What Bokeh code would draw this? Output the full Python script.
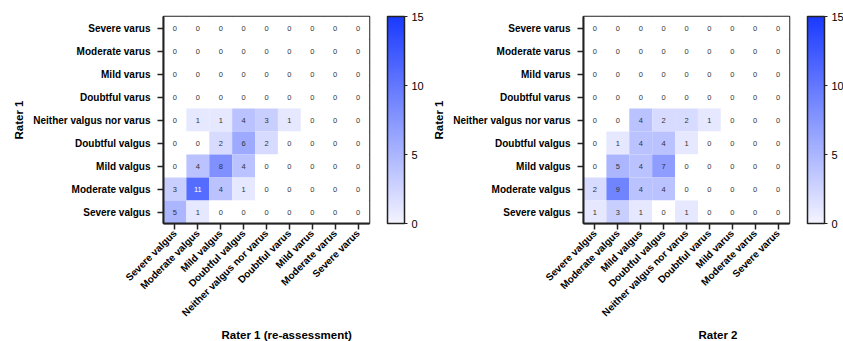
import math
from bokeh.plotting import figure
from bokeh.models import (ColumnDataSource, LinearColorMapper, ColorBar, FixedTicker,
                          FactorRange, Title)
from bokeh.layouts import row
from bokeh.embed import file_html
from bokeh.resources import INLINE
from bokeh.core.properties import value

# Categories
x_categories = ["Severe valgus", "Moderate valgus", "Mild valgus", "Doubtful valgus",
                "Neither valgus nor varus", "Doubtful varus", "Mild varus",
                "Moderate varus", "Severe varus"]
# rows listed top -> bottom
y_rows_top_down = ["Severe varus", "Moderate varus", "Mild varus", "Doubtful varus",
                   "Neither valgus nor varus", "Doubtful valgus", "Mild valgus",
                   "Moderate valgus", "Severe valgus"]

# Rater 1 vs Rater 1 (re-assessment), rows top -> bottom
left_values = [
    [0, 0, 0, 0, 0, 0, 0, 0, 0],
    [0, 0, 0, 0, 0, 0, 0, 0, 0],
    [0, 0, 0, 0, 0, 0, 0, 0, 0],
    [0, 0, 0, 0, 0, 0, 0, 0, 0],
    [0, 1, 1, 4, 3, 1, 0, 0, 0],
    [0, 0, 2, 6, 2, 0, 0, 0, 0],
    [0, 4, 8, 4, 0, 0, 0, 0, 0],
    [3, 11, 4, 1, 0, 0, 0, 0, 0],
    [5, 1, 0, 0, 0, 0, 0, 0, 0],
]
# Rater 1 vs Rater 2, rows top -> bottom
right_values = [
    [0, 0, 0, 0, 0, 0, 0, 0, 0],
    [0, 0, 0, 0, 0, 0, 0, 0, 0],
    [0, 0, 0, 0, 0, 0, 0, 0, 0],
    [0, 0, 0, 0, 0, 0, 0, 0, 0],
    [0, 0, 4, 2, 2, 1, 0, 0, 0],
    [0, 1, 4, 4, 1, 0, 0, 0, 0],
    [0, 5, 4, 7, 0, 0, 0, 0, 0],
    [2, 9, 4, 4, 0, 0, 0, 0, 0],
    [1, 3, 1, 0, 1, 0, 0, 0, 0],
]
colorbar_ticks = [0, 5, 10, 15]
x_titles = ["Rater 1 (re-assessment)", "Rater 2"]
y_title = "Rater 1"

FONT = "Liberation Sans"

# palette white -> blue
lo = (244, 244, 255)
hi = (26, 58, 255)
N = 256
palette = []
for i in range(N):
    t = i / (N - 1)
    r = round(lo[0] + (hi[0] - lo[0]) * t)
    g = round(lo[1] + (hi[1] - lo[1]) * t)
    b = round(lo[2] + (hi[2] - lo[2]) * t)
    palette.append("#%02x%02x%02x" % (r, g, b))


def make_fig(values, xtitle, width, left_border, title_offset):
    xs, ys, vs, tcol = [], [], [], []
    for ri, rname in enumerate(y_rows_top_down):
        for ci, cname in enumerate(x_categories):
            v = values[ri][ci]
            xs.append(cname)
            ys.append(rname)
            vs.append(v)
            tcol.append("#ffffff" if v >= 10 else "#333333")
    src = ColumnDataSource(dict(x=xs, y=ys, v=vs, tcol=tcol, txt=[str(v) for v in vs]))

    frame_w, frame_h = 206, 207
    top = 16
    p = figure(x_range=FactorRange(*x_categories),
               y_range=FactorRange(*list(reversed(y_rows_top_down))),
               frame_width=frame_w, frame_height=frame_h,
               output_backend="svg", toolbar_location=None,
               min_border_left=left_border, min_border_right=width - left_border - frame_w,
               min_border_top=top, min_border_bottom=0)

    cell_mapper = LinearColorMapper(palette=palette, low=1e-9, high=15, low_color="#ffffff")
    p.rect(x="x", y="y", width=1, height=1, source=src,
           fill_color={"field": "v", "transform": cell_mapper}, line_color=None)
    p.text(x="x", y="y", text="txt", source=src, text_align="center",
           text_baseline="middle", text_font_size="7.5px", text_color="tcol",
           text_font=value(FONT))

    p.grid.visible = False
    p.outline_line_color = "#222222"
    p.outline_line_width = 1.5
    p.background_fill_color = "white"

    for ax in (p.xaxis[0], p.yaxis[0]):
        ax.axis_line_width = 2
        ax.axis_line_color = "#222222"
        ax.major_tick_line_color = "#222222"
        ax.major_tick_line_width = 1.5
        ax.major_tick_out = 6
        ax.major_tick_in = 0
        ax.major_label_text_font = FONT
        ax.major_label_text_font_style = "bold"
        ax.major_label_text_font_size = "10px"
        ax.major_label_text_color = "black"
        ax.axis_label_text_font = FONT
        ax.axis_label_text_font_style = "bold"
        ax.axis_label_text_font_size = "11.5px"
        ax.axis_label_text_color = "black"
        ax.major_label_standoff = 4
    p.yaxis.major_label_standoff = 7
    p.xaxis.major_label_standoff = 2
    p.xaxis.major_label_orientation = math.pi / 4
    p.yaxis.axis_label = y_title
    p.yaxis.axis_label_standoff = 5

    t = Title(text=xtitle, align="left", offset=title_offset, text_font=FONT,
              text_font_style="bold", text_font_size="11.5px", text_color="black",
              standoff=2)
    p.add_layout(t, "below")

    cb_mapper = LinearColorMapper(palette=palette, low=0, high=15)
    cb = ColorBar(color_mapper=cb_mapper, width=17, height=frame_h, location=(18, 0),
                  ticker=FixedTicker(ticks=colorbar_ticks), padding=0,
                  major_label_text_font=FONT, major_label_text_font_size="11px",
                  major_label_text_color="black", label_standoff=4,
                  major_tick_line_color="#222222", major_tick_out=3, major_tick_in=0,
                  bar_line_color="#222222", bar_line_width=1.5,
                  border_line_color=None, background_fill_color=None)
    p.add_layout(cb, "right")
    return p


p1 = make_fig(left_values, x_titles[0], 425, 163, 58)
p2 = make_fig(right_values, x_titles[1], 418, 157, 115)
layout = row(p1, p2, spacing=0)

open("out.html", "w").write(file_html(layout, INLINE))
